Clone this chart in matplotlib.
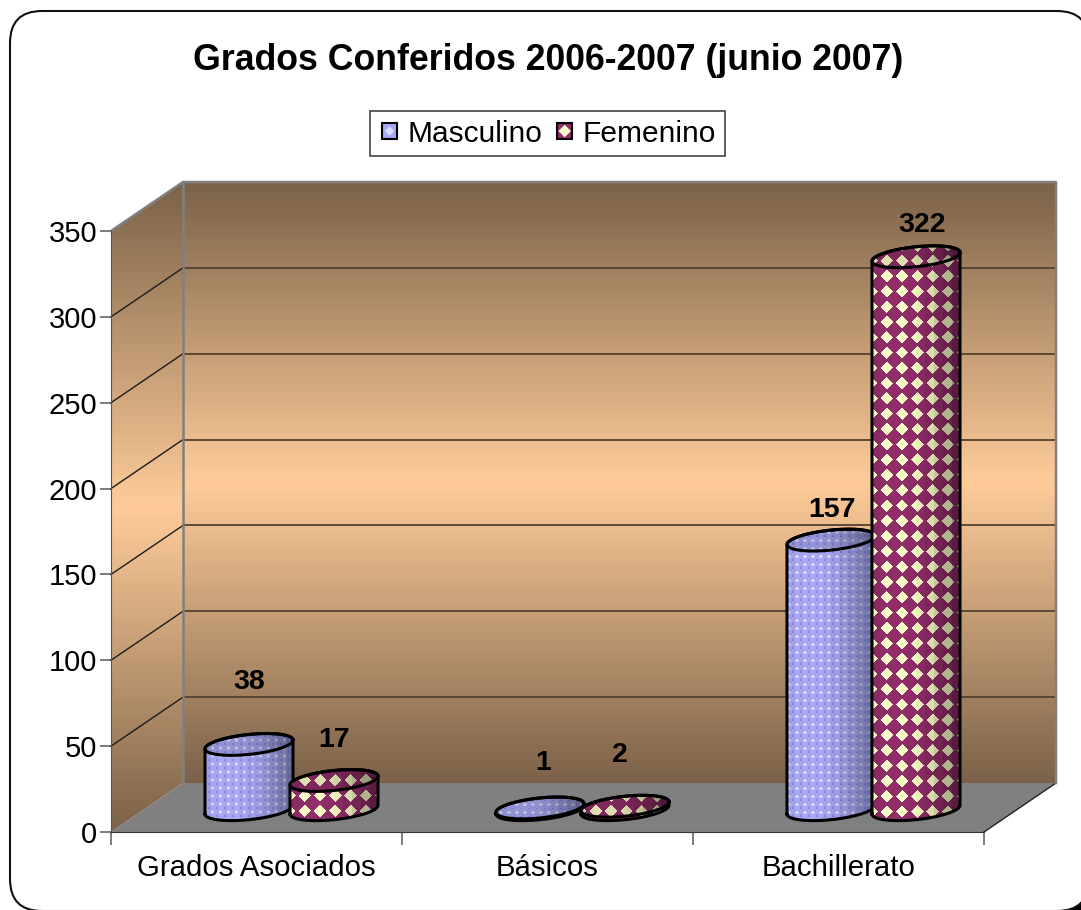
import numpy as np
import matplotlib
matplotlib.use('Agg')
import matplotlib.pyplot as plt
from matplotlib.path import Path
from matplotlib.patches import PathPatch, Polygon, Rectangle, FancyBboxPatch, Patch
from matplotlib.colors import LinearSegmentedColormap
from matplotlib.legend_handler import HandlerBase

plt.rcParams['font.family'] = ['Liberation Sans', 'DejaVu Sans']

categories = ['Grados Asociados', 'Básicos', 'Bachillerato']
masculino = [38, 1, 157]
femenino = [17, 2, 322]
y_ticks = [0, 50, 100, 150, 200, 250, 300, 350]
title = 'Grados Conferidos 2006-2007 (junio 2007)'

# label nudges in px from the top of each cylinder
masc_label_off = [(0, 62), (3, 45), (1, 30)]
fem_label_off = [(0, 40), (-5, 51), (6, 32)]

W, H = 1081, 910
X0, Y0, X1, Y1 = 111, 832, 984, 231   # front plane in px
PX_X = (X1 - X0) / 3.0
PX_Y = (Y0 - Y1) / 350.0
DX = 72 / PX_X      # chart depth
DY = 49 / PX_Y
BAR_W = 85 / PX_X
BAR_SHIFT = 35 / PX_X
BASE = 13           # where cylinders stand on the floor
HW = 44 / PX_X      # top ellipse
HH = 10 / PX_Y
SLANT = 0.1 * PX_X / PX_Y

fig = plt.figure(figsize=(W / 100, H / 100), dpi=100, facecolor='white')

# rounded outer frame
bg = fig.add_axes([0, 0, 1, 1])
bg.set_xlim(0, W)
bg.set_ylim(H, 0)
bg.axis('off')
bg.add_patch(Rectangle((1030, 880), 60, 40, color='black', lw=0))
r = 32
bg.add_patch(FancyBboxPatch((10 + r, 11 + r), 1079 - 2 * r, 900 - 2 * r,
                            boxstyle='round,pad=%d,rounding_size=%d' % (r, r),
                            fc='white', ec='#111111', lw=1.5))

ax = fig.add_axes([X0 / W, (H - Y0) / H, (X1 - X0) / W, (Y0 - Y1) / H])
ax.patch.set_alpha(0)
ax.set_xlim(0, 3)
ax.set_ylim(0, 350)

wall_cmap = LinearSegmentedColormap.from_list('wall', ['#7b6249', '#ffcc99', '#7b6249'])
grad = np.linspace(0, 1, 256).reshape(-1, 1)

# back wall
ax.imshow(grad, cmap=wall_cmap, aspect='auto', extent=(DX, 3 + DX, DY, 350 + DY),
          origin='upper', zorder=1, clip_on=False)
# side wall
side = Polygon([(0, 0), (DX, DY), (DX, 350 + DY), (0, 350)], closed=True,
               transform=ax.transData, fc='none', ec='none')
ax.add_patch(side)
im = ax.imshow(grad, cmap=wall_cmap, aspect='auto', extent=(0, DX, 0, 350 + DY),
               origin='upper', zorder=1)
im.set_clip_path(side)
im.set_clip_box(fig.bbox)

# floor
ax.add_patch(Polygon([(0, 0), (3, 0), (3 + DX, DY), (DX, DY)], closed=True, fc='#808080',
                     ec='none', zorder=2, clip_on=False))
ax.plot([3, 3 + DX], [0, DY], color='#222222', lw=1, zorder=3, clip_on=False)

# grid
for v in y_ticks[1:-1]:
    ax.plot([DX, 3 + DX], [v + DY, v + DY], color='#54422f', lw=1.3, zorder=2, clip_on=False)
    ax.plot([0, DX], [v, v + DY], color='#1c1c1c', lw=1, zorder=2, clip_on=False)
# wall edges
ax.plot([0, DX, 3 + DX, 3 + DX], [350, 350 + DY, 350 + DY, DY], color='#808080', lw=1.8,
        zorder=3, clip_on=False)
ax.plot([DX, DX], [DY, 350 + DY], color='#808080', lw=1.8, zorder=3, clip_on=False)


def texture(kind, w, h, x0, y0, light):
    xx, yy = np.meshgrid(np.arange(w) + x0, np.arange(h) + y0)
    u = (xx - x0) / max(w - 1, 1)
    shade = 0.58 + 0.42 * np.clip(np.cos((np.floor(u * 10) / 10 - 0.22) * 2.2), 0, 1)
    if kind == 'm':
        p = 8.0
        a = np.abs((xx % p) - p / 2) + np.abs((yy % p) - p / 2)
        b = np.abs(((xx + p / 2) % p) - p / 2) + np.abs(((yy + p / 2) % p) - p / 2)
        img = np.zeros((h, w, 3)) + np.array([168, 168, 246])
        img[a < 2.0] = (222, 222, 255)
        img[b < 1.4] = (140, 140, 232)
        shade = 0.62 + 0.38 * (shade - 0.58) / 0.42
    else:
        p = 15.3
        d = np.abs(((xx - x0 + p / 2) % p) - p / 2) + np.abs(((yy + p / 2) % p) - p / 2)
        img = np.zeros((h, w, 3)) + np.array([146, 46, 106])
        img[d < 6.3] = (255, 255, 204)
    return np.clip(img * shade[..., None] * light, 0, 255).astype(np.uint8)


def ellipse_pts(xc, yc, t):
    x = xc + HW * np.cos(t)
    return x, yc + HH * np.sin(t) + SLANT * (x - xc)


def cylinder(xc, value, kind, z):
    top = BASE + value
    t = np.linspace(0, 2 * np.pi, 80)
    tx, ty = ellipse_pts(xc, top, t)
    bx, by = ellipse_pts(xc, BASE, np.linspace(np.pi, 2 * np.pi, 40))
    ux, uy = ellipse_pts(xc, top, np.linspace(0, np.pi, 40))
    body = np.column_stack([np.r_[bx, ux], np.r_[by, uy]])
    body = np.vstack([body, body[0]])
    body_patch = PathPatch(Path(body), fc='none', ec='none', transform=ax.transData)
    ax.add_patch(body_patch)
    x_lo, x_hi = xc - HW - 0.005, xc + HW + 0.005
    y_lo, y_hi = body[:, 1].min(), body[:, 1].max()
    w = int((x_hi - x_lo) * PX_X) + 1
    h = int((y_hi - y_lo) * PX_Y) + 1
    img = texture(kind, w, h, X0 + x_lo * PX_X, Y0 - y_hi * PX_Y, 1.0)
    im = ax.imshow(img, extent=(x_lo, x_hi, y_lo, y_hi), aspect='auto', zorder=z,
                   interpolation='bilinear')
    im.set_clip_path(body_patch)
    im.set_clip_box(fig.bbox)
    ax.plot(body[:, 0], body[:, 1], color='black', lw=2.2, zorder=z + 0.2, clip_on=False)
    # cap
    cap = PathPatch(Path(np.column_stack([tx, ty])), fc='none', ec='none', transform=ax.transData)
    ax.add_patch(cap)
    h2 = int((ty.max() - ty.min()) * PX_Y) + 1
    img2 = texture(kind, w, h2, X0 + x_lo * PX_X, Y0 - ty.max() * PX_Y, 0.88)
    im2 = ax.imshow(img2, extent=(x_lo, x_hi, ty.min(), ty.max()), aspect='auto',
                    zorder=z + 0.1, interpolation='bilinear')
    im2.set_clip_path(cap)
    im2.set_clip_box(fig.bbox)
    ax.plot(tx, ty, color='black', lw=2.2, zorder=z + 0.2, clip_on=False)


for i in range(len(categories)):
    xm = i + 0.5 + BAR_SHIFT - BAR_W / 2
    xf = i + 0.5 + BAR_SHIFT + BAR_W / 2
    cylinder(xm, masculino[i], 'm', 5 + i)
    cylinder(xf, femenino[i], 'f', 5.5 + i)
    for xc, val, off in [(xm, masculino[i], masc_label_off[i]), (xf, femenino[i], fem_label_off[i])]:
        ax.annotate(str(val), (xc, BASE + val), xytext=(off[0] * 0.72, off[1] * 0.72),
                    textcoords='offset points', ha='center', va='center',
                    fontsize=20.5, fontweight='bold', color='black', zorder=20)

# axes
ax.spines['top'].set_visible(False)
ax.spines['right'].set_visible(False)
ax.spines['left'].set_color('#555555')
ax.spines['bottom'].set_color('#333333')
ax.spines['left'].set_zorder(4)
ax.spines['bottom'].set_zorder(4)
ax.set_yticks(y_ticks)
ax.tick_params(axis='y', length=8, width=1.2, color='#666666', labelsize=21, pad=2)
ax.set_xticks([0, 1, 2, 3])
ax.set_xticklabels([])
ax.tick_params(axis='x', which='major', length=9, width=1.2, color='#666666')
ax.set_xticks([0.5, 1.5, 2.5], minor=True)
ax.set_xticklabels(categories, minor=True, fontsize=21.2)
ax.tick_params(axis='x', which='minor', length=0, pad=16)

fig.text(548 / W, 1 - 61 / H, title, ha='center', va='center', fontsize=25.7, fontweight='bold')


class Swatch(HandlerBase):
    def create_artists(self, legend, orig, xd, yd, width, height, fontsize, trans):
        cx, cy = xd * -1 + width / 2, -yd + height / 2
        s = 5.6
        rect = Rectangle((cx - s, cy - s), 2 * s, 2 * s, fc=orig.get_facecolor(), ec='black',
                         lw=1.5, transform=trans)
        q = s * orig.mark
        dia = Polygon([(cx - q, cy), (cx, cy + q), (cx + q, cy), (cx, cy - q)], closed=True,
                      fc=orig.mark_color, ec='none', transform=trans)
        return [rect, dia]


h_m = Patch(fc='#a8a8f6', label='Masculino')
h_m.mark, h_m.mark_color = 0.6, '#dcdcff'
h_f = Patch(fc='#922e6a', label='Femenino')
h_f.mark, h_f.mark_color = 0.8, '#ffffcc'
leg = fig.legend(handles=[h_m, h_f], handler_map={Patch: Swatch()}, loc='center',
                 bbox_to_anchor=(547.5 / W, 1 - 133.5 / H), fontsize=21.5, ncol=2, frameon=True,
                 fancybox=False, edgecolor='#444444', framealpha=1, handlelength=0.7,
                 handletextpad=0.25, columnspacing=0.4, borderpad=0.3, borderaxespad=0)
leg.get_frame().set_linewidth(1.2)

fig.savefig('out.png', dpi=100)
